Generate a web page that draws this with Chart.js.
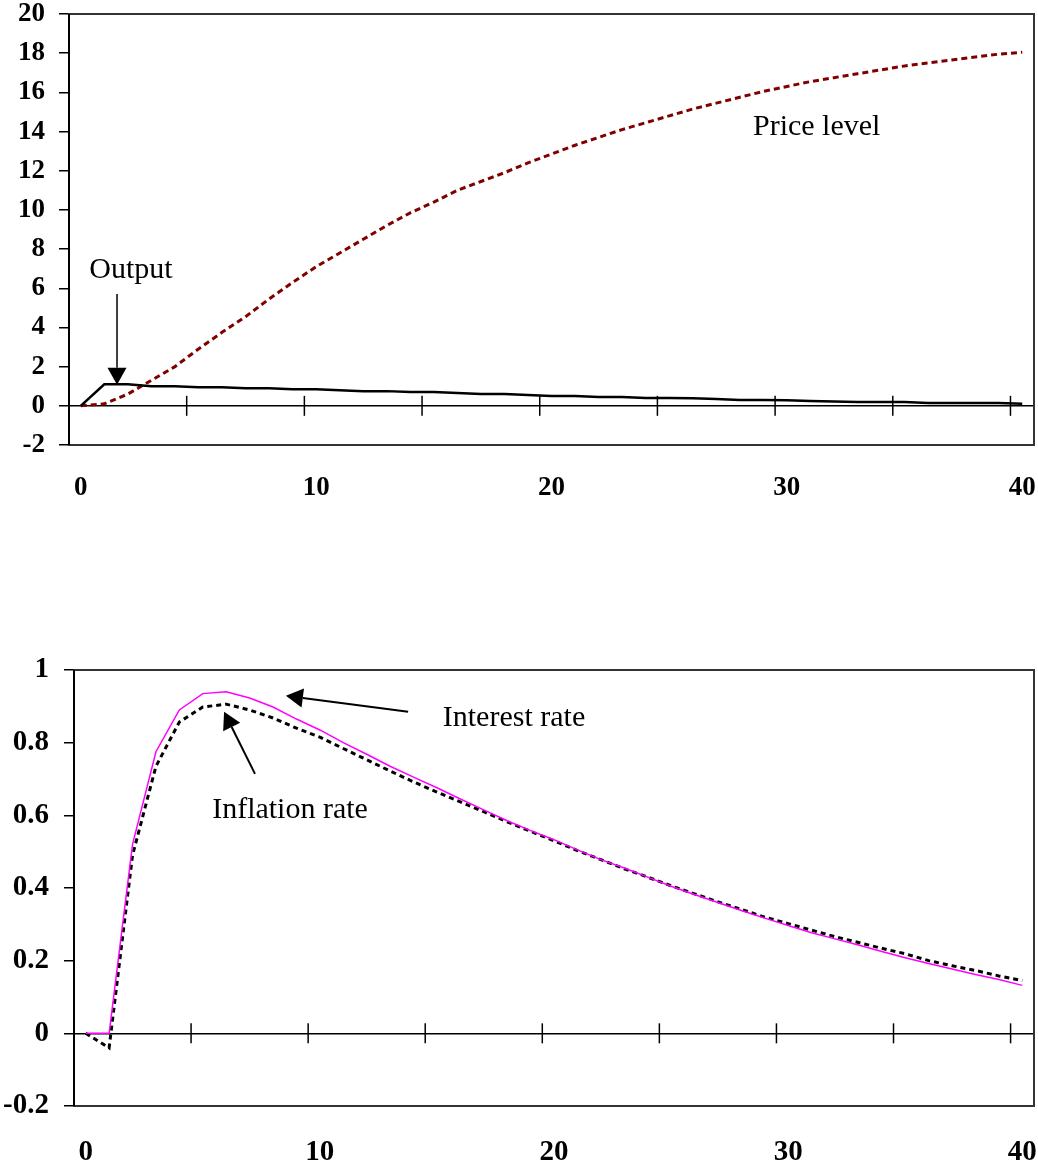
<!DOCTYPE html>
<html><head><meta charset="utf-8">
<script src="https://cdn.jsdelivr.net/npm/chart.js@4"></script>
<style>
html,body{margin:0;padding:0;background:#fff;width:1038px;height:1167px;overflow:hidden}
#w1{position:absolute;left:0;top:0;width:1038px;height:520px}
#w2{position:absolute;left:0;top:656px;width:1038px;height:511px}
</style></head><body>
<div id="w1"><canvas id="c1"></canvas></div>
<div id="w2"><canvas id="c2"></canvas></div>
<script>
// ---- data ----
const categories = ['0','1','2','3','4','5','6','7','8','9','10','11','12','13','14','15','16','17','18','19','20','21','22','23','24','25','26','27','28','29','30','31','32','33','34','35','36','37','38','39','40'];
const xTickLabels = ['0','10','20','30','40'];
const outputSeries = [0,1.1,1.1,1.0,1.0,0.95,0.95,0.9,0.9,0.85,0.85,0.8,0.75,0.75,0.7,0.7,0.65,0.6,0.6,0.55,0.5,0.5,0.45,0.45,0.4,0.4,0.38,0.35,0.3,0.3,0.28,0.25,0.22,0.2,0.2,0.2,0.15,0.15,0.15,0.15,0.1];
const priceLevel = [0,0.1,0.6,1.3,2.0,2.9,3.75,4.55,5.45,6.3,7.1,7.8,8.5,9.2,9.85,10.4,11.0,11.45,11.9,12.4,12.85,13.3,13.7,14.1,14.45,14.8,15.15,15.45,15.75,16.05,16.3,16.55,16.75,16.95,17.15,17.35,17.5,17.65,17.8,17.95,18.05];
const interestRate = [0,0,0.52,0.775,0.89,0.935,0.94,0.923,0.898,0.865,0.835,0.8,0.768,0.735,0.705,0.676,0.645,0.615,0.585,0.558,0.533,0.505,0.478,0.455,0.43,0.405,0.382,0.36,0.338,0.317,0.297,0.277,0.26,0.243,0.225,0.208,0.192,0.177,0.162,0.148,0.132];
const inflationRate = [0,-0.04,0.49,0.735,0.857,0.898,0.906,0.89,0.868,0.84,0.815,0.784,0.753,0.722,0.692,0.664,0.637,0.61,0.582,0.556,0.53,0.503,0.478,0.453,0.43,0.406,0.384,0.362,0.341,0.32,0.302,0.284,0.266,0.25,0.234,0.219,0.2,0.186,0.173,0.158,0.145];
const yTicksTop = [-2,0,2,4,6,8,10,12,14,16,18,20];
const yTicksBottom = [-0.2,0,0.2,0.4,0.6,0.8,1];

// ---- plugins ----
const SERIF = "'Liberation Serif','Times New Roman',serif";
const framePlugin = {
  id: 'frame',
  beforeDatasetsDraw(chart) {
    const x = chart.scales.x, y = chart.scales.y, ctx = chart.ctx;
    const y0 = y.getPixelForValue(0);
    ctx.save();
    ctx.strokeStyle = '#000'; ctx.lineWidth = 1.5;
    for (let k = 5; k < categories.length; k += 5) {
      const px = (x.getPixelForValue(k - 1) + x.getPixelForValue(k)) / 2;
      ctx.beginPath(); ctx.moveTo(px, y0 - 10); ctx.lineTo(px, y0 + 10); ctx.stroke();
    }
    ctx.restore();
  },
  afterDraw(chart, args, opts) {
    const a = chart.chartArea, ctx = chart.ctx, x = chart.scales.x, y = chart.scales.y;
    ctx.save();
    ctx.strokeStyle = '#333'; ctx.lineWidth = 2;
    ctx.strokeRect(a.left, a.top, a.right - a.left, a.bottom - a.top);
    ctx.strokeStyle = '#000';
    ctx.beginPath(); ctx.moveTo(a.left, a.top); ctx.lineTo(a.left, a.bottom); ctx.stroke();
    ctx.fillStyle = '#000';
    ctx.font = '30px ' + SERIF;
    ctx.textBaseline = 'alphabetic';
    (opts.texts || []).forEach(t => {
      ctx.textAlign = t.align || 'left';
      ctx.fillText(t.text, x.getPixelForValue(t.x), y.getPixelForValue(t.y));
    });
    (opts.arrows || []).forEach(ar => {
      const x1 = x.getPixelForValue(ar.x1), y1 = y.getPixelForValue(ar.y1);
      const x2 = x.getPixelForValue(ar.x2), y2 = y.getPixelForValue(ar.y2);
      const ang = Math.atan2(y2 - y1, x2 - x1);
      const L = 17, W = 9.5;
      const bx = x2 - L * Math.cos(ang), by = y2 - L * Math.sin(ang);
      ctx.lineWidth = ar.w || 2;
      ctx.beginPath(); ctx.moveTo(x1, y1); ctx.lineTo(bx, by); ctx.stroke();
      ctx.beginPath();
      ctx.moveTo(x2, y2);
      ctx.lineTo(bx + W * Math.sin(ang), by - W * Math.cos(ang));
      ctx.lineTo(bx - W * Math.sin(ang), by + W * Math.cos(ang));
      ctx.closePath(); ctx.fill();
    });
    ctx.restore();
  }
};

function makeChart(id, datasets, yMin, yMax, yTicks, yFmt, axisW, fontSize, xPad, yPad, xAxisH, notes) {
  return new Chart(document.getElementById(id), {
    type: 'line',
    data: { labels: categories, datasets },
    plugins: [framePlugin],
    options: {
      responsive: true, maintainAspectRatio: false, animation: false, devicePixelRatio: 1,
      layout: { padding: { top: 14, right: 4, left: 0, bottom: 0 } },
      plugins: { legend: { display: false }, tooltip: { enabled: false }, frame: notes },
      elements: { point: { radius: 0 }, line: { tension: 0 } },
      scales: {
        x: {
          type: 'category', offset: true,
          grid: { display: false }, border: { display: false },
          afterFit: s => { s.height = xAxisH; s.paddingLeft = 0; s.paddingRight = 0; s.paddingTop = 0; s.paddingBottom = 0; },
          ticks: {
            autoSkip: false, maxRotation: 0, minRotation: 0, padding: xPad, color: '#000',
            font: { family: SERIF, weight: 'bold', size: fontSize },
            callback: (v, i) => xTickLabels.includes(categories[i]) ? categories[i] : ''
          }
        },
        y: {
          type: 'linear', min: yMin, max: yMax,
          afterBuildTicks: s => { s.ticks = yTicks.map(v => ({ value: v })); },
          afterFit: s => { s.width = axisW; s.paddingTop = 0; s.paddingBottom = 0; s.paddingLeft = 0; s.paddingRight = 0; },
          grid: {
            drawOnChartArea: true, tickLength: 10, tickColor: '#000', tickWidth: 1.5,
            color: c => (c.tick && c.tick.value === 0) ? '#000' : 'rgba(0,0,0,0)',
            lineWidth: 1.5
          },
          border: { display: true, color: '#000', width: 2 },
          ticks: {
            padding: yPad, color: '#000',
            font: { family: SERIF, weight: 'bold', size: fontSize },
            callback: yFmt
          }
        }
      }
    }
  });
}

makeChart('c1', [
  { data: outputSeries, borderColor: '#000', borderWidth: 2.5, fill: false },
  { data: priceLevel, borderColor: '#800000', borderWidth: 3, borderDash: [6, 4], fill: false }
], -2, 20, yTicksTop, v => String(v), 69, 27, 19, 14, 75, {
  texts: [
    { text: 'Output', x: 2.13, y: 6.53, align: 'center' },
    { text: 'Price level', x: 28.56, y: 13.83, align: 'left' }
  ],
  arrows: [ { x1: 1.54, y1: 5.71, x2: 1.54, y2: 1.07, w: 1.5 } ]
});

makeChart('c2', [
  { data: interestRate, borderColor: '#ff00ff', borderWidth: 1.5, fill: false },
  { data: inflationRate, borderColor: '#000', borderWidth: 3, borderDash: [5, 4], fill: false }
], -0.2, 1, yTicksBottom, v => String(Math.round(v * 10) / 10), 74, 29, 21, 15, 61, {
  texts: [
    { text: 'Interest rate', x: 15.25, y: 0.846, align: 'left' },
    { text: 'Inflation rate', x: 5.4, y: 0.593, align: 'left' }
  ],
  arrows: [
    { x1: 13.77, y1: 0.885, x2: 8.55, y2: 0.929, w: 2 },
    { x1: 7.23, y1: 0.714, x2: 5.91, y2: 0.885, w: 2 }
  ]
});
</script>
</body></html>
